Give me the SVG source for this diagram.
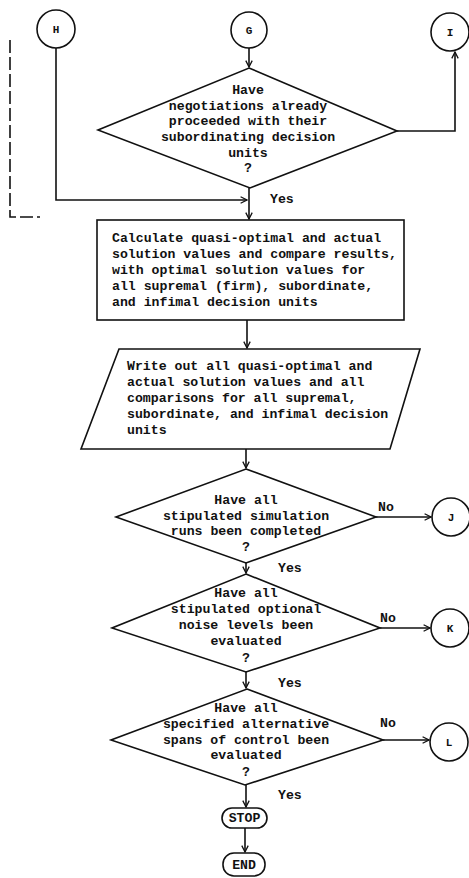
<svg xmlns="http://www.w3.org/2000/svg" width="469" height="878" viewBox="0 0 469 878">
<style>
.s{fill:none;stroke:#111;stroke-width:1.6}
.n{fill:#fff;stroke:#111;stroke-width:1.6}
.t{font-family:"Liberation Mono",monospace;font-size:13.2px;font-weight:bold;fill:#111}
.c{text-anchor:middle}
.l{font-size:11px}
.d{fill:none;stroke:#111;stroke-width:1.6;stroke-dasharray:13 4}
</style>
<defs>
<marker id="a" viewBox="0 0 10 10" refX="9" refY="5" markerWidth="8" markerHeight="8" orient="auto" markerUnits="userSpaceOnUse">
<path d="M1,1 L9,5 L1,9" fill="none" stroke="#111" stroke-width="1.6"/>
</marker>
</defs>
<rect width="469" height="878" fill="#fff"/>
<g id="connectors">
<path class="s" d="M249,48 V67" marker-end="url(#a)"/>
<path class="s" d="M397,131 H455 V52" marker-end="url(#a)"/>
<path class="s" d="M56,48 V200 H247" marker-end="url(#a)"/>
<path class="s" d="M249,188 V219" marker-end="url(#a)"/>
<path class="s" d="M247,320 V348" marker-end="url(#a)"/>
<path class="s" d="M246,449 V468" marker-end="url(#a)"/>
<path class="s" d="M376,517 H431" marker-end="url(#a)"/>
<path class="s" d="M246,563 V573" marker-end="url(#a)"/>
<path class="s" d="M380,628 H430" marker-end="url(#a)"/>
<path class="s" d="M246,672 V688" marker-end="url(#a)"/>
<path class="s" d="M383,740 H429" marker-end="url(#a)"/>
<path class="s" d="M246,785 V807" marker-end="url(#a)"/>
<path class="s" d="M245,828 V852" marker-end="url(#a)"/>
<path class="d" d="M10,40 V217 H40"/>
<text class="t" x="270" y="203">Yes</text>
<text class="t" x="278" y="572">Yes</text>
<text class="t" x="278" y="687">Yes</text>
<text class="t" x="278" y="799">Yes</text>
<text class="t" x="378" y="511">No</text>
<text class="t" x="380" y="622">No</text>
<text class="t" x="380" y="727">No</text>
</g>
<g id="H"><circle class="n" cx="56" cy="29" r="19"/><text class="t c l" x="56" y="33">H</text></g>
<g id="G"><circle class="n" cx="249" cy="30" r="18"/><text class="t c l" x="249" y="34">G</text></g>
<g id="I"><circle class="n" cx="450" cy="32" r="19"/><text class="t c l" x="450" y="36">I</text></g>
<g id="d1"><polygon class="n" points="249,68 397,131 250,188 98,130"/>
<text class="t c" x="248" y="94">Have</text>
<text class="t c" x="248" y="110">negotiations already</text>
<text class="t c" x="248" y="125">proceeded with their</text>
<text class="t c" x="248" y="141">subordinating decision</text>
<text class="t c" x="248" y="157">units</text>
<text class="t c" x="248" y="172">?</text>
</g>
<g id="calc"><rect class="n" x="97" y="220" width="307" height="100"/>
<text class="t" x="112" y="242">Calculate quasi-optimal and actual</text>
<text class="t" x="112" y="258">solution values and compare results,</text>
<text class="t" x="112" y="274">with optimal solution values for</text>
<text class="t" x="112" y="290">all supremal (firm), subordinate,</text>
<text class="t" x="112" y="306">and infimal decision units</text>
</g>
<g id="write"><polygon class="n" points="119,349 420,349 390,449 81,449"/>
<text class="t" x="127" y="370">Write out all quasi-optimal and</text>
<text class="t" x="127" y="386">actual solution values and all</text>
<text class="t" x="127" y="402">comparisons for all supremal,</text>
<text class="t" x="127" y="418">subordinate, and infimal decision</text>
<text class="t" x="127" y="434">units</text>
</g>
<g id="d2"><polygon class="n" points="246,469 376,517 246,563 116,517"/>
<text class="t c" x="246" y="504">Have all</text>
<text class="t c" x="246" y="520">stipulated simulation</text>
<text class="t c" x="246" y="535">runs been completed</text>
<text class="t c" x="246" y="551">?</text>
</g>
<g id="J"><circle class="n" cx="451" cy="517" r="19"/><text class="t c l" x="451" y="521">J</text></g>
<g id="d3"><polygon class="n" points="246,574 380,628 246,672 112,628"/>
<text class="t c" x="246" y="597">Have all</text>
<text class="t c" x="246" y="613">stipulated optional</text>
<text class="t c" x="246" y="629">noise levels been</text>
<text class="t c" x="246" y="645">evaluated</text>
<text class="t c" x="246" y="662">?</text>
</g>
<g id="K"><circle class="n" cx="450" cy="628" r="19"/><text class="t c l" x="450" y="632">K</text></g>
<g id="d4"><polygon class="n" points="247,689 383,740 245,785 111,740"/>
<text class="t c" x="246" y="712">Have all</text>
<text class="t c" x="246" y="728">specified alternative</text>
<text class="t c" x="246" y="744">spans of control been</text>
<text class="t c" x="246" y="759">evaluated</text>
<text class="t c" x="246" y="776">?</text>
</g>
<g id="L"><circle class="n" cx="449" cy="742" r="19"/><text class="t c l" x="449" y="746">L</text></g>
<g id="stop"><rect class="n" x="222" y="808" width="45" height="20" rx="10"/><text class="t c" x="244.5" y="822">STOP</text></g>
<g id="end"><rect class="n" x="223" y="853" width="42" height="23" rx="11"/><text class="t c" x="244" y="869">END</text></g>
</svg>
